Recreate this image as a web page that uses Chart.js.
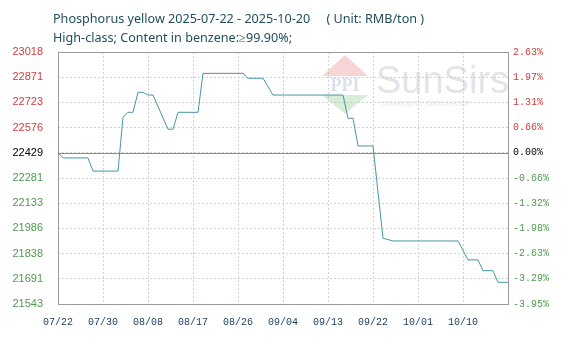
<!DOCTYPE html>
<html><head><meta charset="utf-8">
<script src="https://cdn.jsdelivr.net/npm/chart.js@4/dist/chart.umd.min.js"></script>
<style>html,body{margin:0;padding:0;background:#fff;}#wrap{width:580px;height:344px;}</style>
</head><body><div id="wrap"><canvas id="c" width="580" height="344"></canvas></div>
<script>
const titleLines = ['Phosphorus yellow 2025-07-22 - 2025-10-20     ( Unit: RMB/ton )', 'High-class; Content in benzene:\u226599.90%;'];
const startDate = '2025-07-22';
const dates = ['2025-07-22','2025-07-23','2025-07-28','2025-07-29','2025-08-03','2025-08-04','2025-08-05','2025-08-06','2025-08-07','2025-08-08','2025-08-09','2025-08-10','2025-08-13','2025-08-14','2025-08-15','2025-08-19','2025-08-20','2025-08-28','2025-08-29','2025-09-01','2025-09-03','2025-09-17','2025-09-18','2025-09-19','2025-09-20','2025-09-23','2025-09-25','2025-09-27','2025-10-10','2025-10-12','2025-10-14','2025-10-15','2025-10-17','2025-10-18','2025-10-20'];
const prices = [22429,22399,22399,22322,22322,22637,22666,22666,22783,22783,22767,22767,22567,22567,22666,22666,22894,22894,22865,22865,22767,22767,22631,22631,22469,22469,21929,21913,21913,21802,21802,21739,21739,21671,21671];
const xTickLabels = ['07/22','07/30','08/08','08/17','08/26','09/04','09/13','09/22','10/01','10/10',''];
const yTickLabels = ['21543','21691','21838','21986','22133','22281','22429','22576','22723','22871','23018'];
const pctTickLabels = ['-3.95%','-3.29%','-2.63%','-1.98%','-1.32%','-0.66%','0.00%','0.66%','1.31%','1.97%','2.63%'];
const basePrice = 22429;
const yMin = 21544, yMax = 23019;
const xSpanDays = 90, xTickStepDays = 9;

const DAY = 86400000;
const t0 = Date.parse(startDate + 'T00:00:00Z');
const points = dates.map((d, i) => ({ x: (Date.parse(d + 'T00:00:00Z') - t0) / DAY, y: prices[i] }));

const RED = '#d23c3c', GREEN = '#4e9a4e', BLACK = '#000';
const tickColor = (ctx) => ctx.index > 6 ? RED : (ctx.index === 6 ? BLACK : GREEN);
const yTicksEven = (scale) => { scale.ticks = yTickLabels.map((_, i) => ({ value: yMin + i * (yMax - yMin) / 10 })); };

const decor = {
  id: 'decor',
  beforeDatasetsDraw(chart) {
    const { ctx, chartArea: a, scales } = chart;
    ctx.save();
    // watermark
    ctx.globalAlpha = 0.42;
    ctx.fillStyle = '#ee9a9a';
    ctx.beginPath(); ctx.moveTo(345, 55); ctx.lineTo(368, 76); ctx.lineTo(322, 76); ctx.closePath(); ctx.fill();
    ctx.fillStyle = '#9fd49f';
    ctx.beginPath(); ctx.moveTo(322, 95); ctx.lineTo(368, 95); ctx.lineTo(345, 114); ctx.closePath(); ctx.fill();
    ctx.fillStyle = '#a9b6d0';
    ctx.font = 'bold 18px "Liberation Serif"';
    ctx.textAlign = 'center'; ctx.textBaseline = 'middle';
    ctx.fillText('PPI', 345, 86);
    ctx.fillStyle = '#b9bfcc';
    ctx.font = '38px "Liberation Sans"';
    ctx.textAlign = 'left'; ctx.textBaseline = 'alphabetic';
    ctx.fillText('SunSirs', 376, 93);
    ctx.font = '7px "Liberation Sans"';
    ctx.fillText('COMMODITY DATA GROUP', 380, 106);
    ctx.globalAlpha = 1;
    // baseline
    const yb = Math.round(scales.y.getPixelForValue(basePrice)) + 0.5;
    ctx.strokeStyle = '#8c8c8c'; ctx.lineWidth = 1;
    ctx.beginPath(); ctx.moveTo(a.left, yb); ctx.lineTo(a.right, yb); ctx.stroke();
    // frame
    ctx.strokeStyle = '#9a9a9a';
    ctx.strokeRect(Math.round(a.left) + 0.5, Math.round(a.top) + 0.5, Math.round(a.right - a.left), Math.round(a.bottom - a.top));
    ctx.restore();
  },
  afterDraw(chart) {
    const ctx = chart.ctx;
    ctx.save();
    ctx.fillStyle = '#1f4d5c';
    ctx.font = '12.6px "Noto Sans"';
    ctx.textAlign = 'left'; ctx.textBaseline = 'alphabetic';
    ctx.fillText(titleLines[0], 53, 23);
    ctx.fillText(titleLines[1], 53, 42);
    ctx.restore();
  }
};

new Chart(document.getElementById('c'), {
  type: 'line',
  data: { datasets: [{ data: points, borderColor: '#4596a6', borderWidth: 1, pointRadius: 0, tension: 0, fill: false }] },
  options: {
    responsive: false, animation: false, devicePixelRatio: 1,
    layout: { padding: { top: 52, left: 0, right: 0, bottom: 0 } },
    plugins: { legend: { display: false }, title: { display: false }, tooltip: { enabled: false } },
    scales: {
      x: {
        type: 'linear', min: 0, max: xSpanDays,
        afterBuildTicks: (s) => { s.ticks = xTickLabels.map((_, i) => ({ value: i * xTickStepDays })); },
        afterFit: (s) => { s.height = 40; },
        grid: { color: '#d2d2d2', drawTicks: false },
        border: { display: false, dash: [2, 2] },
        ticks: { callback: (v, i) => xTickLabels[i], color: '#1a3b5c', font: { family: '"Liberation Mono"', size: 10 }, padding: 12, maxRotation: 0, autoSkip: false }
      },
      y: {
        position: 'left', min: yMin, max: yMax,
        afterBuildTicks: yTicksEven,
        afterFit: (s) => { s.width = 58; },
        grid: { color: '#d2d2d2', drawTicks: false },
        border: { display: false, dash: [2, 2] },
        ticks: { callback: (v, i) => yTickLabels[i], color: tickColor, font: { family: '"Liberation Sans"', size: 11 }, padding: 15, autoSkip: false }
      },
      y2: {
        position: 'right', min: yMin, max: yMax,
        afterBuildTicks: yTicksEven,
        afterFit: (s) => { s.width = 72; },
        grid: { display: false, drawTicks: false },
        border: { display: false },
        ticks: { callback: (v, i) => pctTickLabels[i], color: tickColor, font: { family: '"Liberation Mono"', size: 10 }, padding: 5, autoSkip: false }
      }
    }
  },
  plugins: [decor]
});
</script></body></html>
